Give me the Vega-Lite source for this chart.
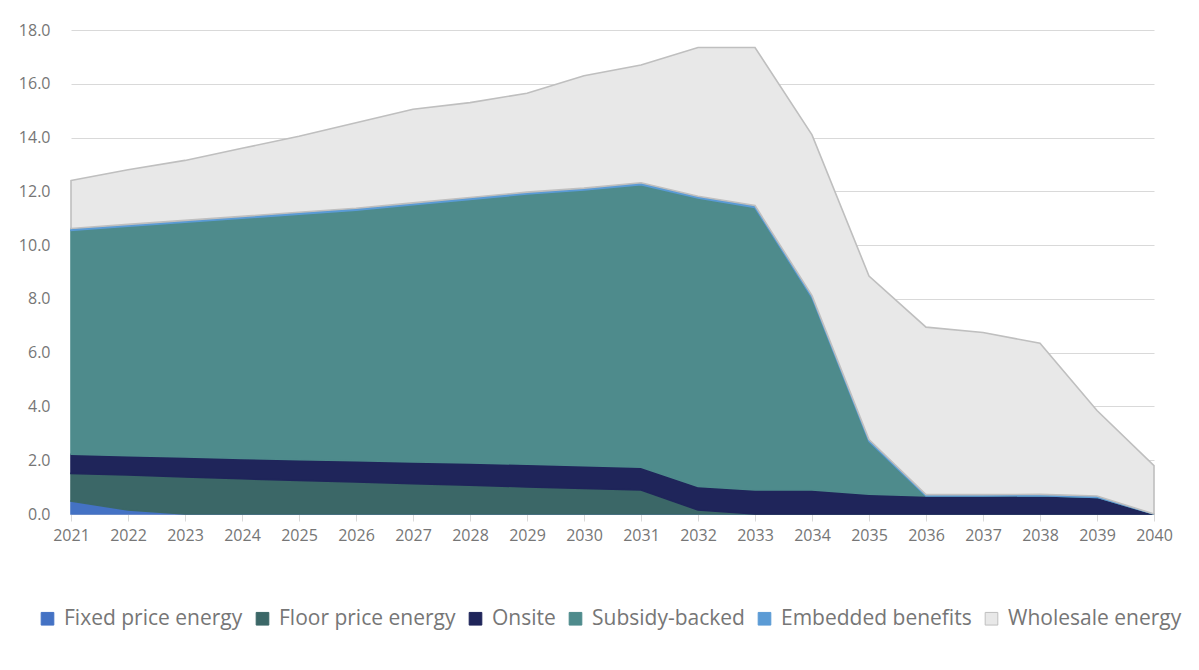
{
  "$schema": "https://vega.github.io/schema/vega-lite/v6.json",
  "width": 1083,
  "height": 484,
  "autosize": "none",
  "padding": {"left": 71, "top": 30, "right": 45, "bottom": 156},
  "background": "white",
  "config": {
    "view": {"stroke": null},
    "font": "Open Sans",
    "axis": {"labelFont": "Open Sans", "labelColor": "#767676", "labelFontSize": 16}
  },
  "datasets": {
    "d": [
      {"year": 2021, "series": "Fixed price energy", "value": 0.48},
      {"year": 2022, "series": "Fixed price energy", "value": 0.15},
      {"year": 2023, "series": "Fixed price energy", "value": 0},
      {"year": 2024, "series": "Fixed price energy", "value": 0},
      {"year": 2025, "series": "Fixed price energy", "value": 0},
      {"year": 2026, "series": "Fixed price energy", "value": 0},
      {"year": 2027, "series": "Fixed price energy", "value": 0},
      {"year": 2028, "series": "Fixed price energy", "value": 0},
      {"year": 2029, "series": "Fixed price energy", "value": 0},
      {"year": 2030, "series": "Fixed price energy", "value": 0},
      {"year": 2031, "series": "Fixed price energy", "value": 0},
      {"year": 2032, "series": "Fixed price energy", "value": 0},
      {"year": 2033, "series": "Fixed price energy", "value": 0},
      {"year": 2034, "series": "Fixed price energy", "value": 0},
      {"year": 2035, "series": "Fixed price energy", "value": 0},
      {"year": 2036, "series": "Fixed price energy", "value": 0},
      {"year": 2037, "series": "Fixed price energy", "value": 0},
      {"year": 2038, "series": "Fixed price energy", "value": 0},
      {"year": 2039, "series": "Fixed price energy", "value": 0},
      {"year": 2040, "series": "Fixed price energy", "value": 0},

      {"year": 2021, "series": "Floor price energy", "value": 1.03},
      {"year": 2022, "series": "Floor price energy", "value": 1.30},
      {"year": 2023, "series": "Floor price energy", "value": 1.38},
      {"year": 2024, "series": "Floor price energy", "value": 1.31},
      {"year": 2025, "series": "Floor price energy", "value": 1.25},
      {"year": 2026, "series": "Floor price energy", "value": 1.19},
      {"year": 2027, "series": "Floor price energy", "value": 1.13},
      {"year": 2028, "series": "Floor price energy", "value": 1.07},
      {"year": 2029, "series": "Floor price energy", "value": 1.01},
      {"year": 2030, "series": "Floor price energy", "value": 0.95},
      {"year": 2031, "series": "Floor price energy", "value": 0.89},
      {"year": 2032, "series": "Floor price energy", "value": 0.15},
      {"year": 2033, "series": "Floor price energy", "value": 0},
      {"year": 2034, "series": "Floor price energy", "value": 0},
      {"year": 2035, "series": "Floor price energy", "value": 0},
      {"year": 2036, "series": "Floor price energy", "value": 0},
      {"year": 2037, "series": "Floor price energy", "value": 0},
      {"year": 2038, "series": "Floor price energy", "value": 0},
      {"year": 2039, "series": "Floor price energy", "value": 0},
      {"year": 2040, "series": "Floor price energy", "value": 0},

      {"year": 2021, "series": "Onsite", "value": 0.71},
      {"year": 2022, "series": "Onsite", "value": 0.72},
      {"year": 2023, "series": "Onsite", "value": 0.74},
      {"year": 2024, "series": "Onsite", "value": 0.76},
      {"year": 2025, "series": "Onsite", "value": 0.77},
      {"year": 2026, "series": "Onsite", "value": 0.79},
      {"year": 2027, "series": "Onsite", "value": 0.81},
      {"year": 2028, "series": "Onsite", "value": 0.83},
      {"year": 2029, "series": "Onsite", "value": 0.84},
      {"year": 2030, "series": "Onsite", "value": 0.85},
      {"year": 2031, "series": "Onsite", "value": 0.85},
      {"year": 2032, "series": "Onsite", "value": 0.87},
      {"year": 2033, "series": "Onsite", "value": 0.89},
      {"year": 2034, "series": "Onsite", "value": 0.89},
      {"year": 2035, "series": "Onsite", "value": 0.74},
      {"year": 2036, "series": "Onsite", "value": 0.67},
      {"year": 2037, "series": "Onsite", "value": 0.67},
      {"year": 2038, "series": "Onsite", "value": 0.68},
      {"year": 2039, "series": "Onsite", "value": 0.62},
      {"year": 2040, "series": "Onsite", "value": 0},

      {"year": 2021, "series": "Subsidy-backed", "value": 8.33},
      {"year": 2022, "series": "Subsidy-backed", "value": 8.53},
      {"year": 2023, "series": "Subsidy-backed", "value": 8.73},
      {"year": 2024, "series": "Subsidy-backed", "value": 8.93},
      {"year": 2025, "series": "Subsidy-backed", "value": 9.13},
      {"year": 2026, "series": "Subsidy-backed", "value": 9.32},
      {"year": 2027, "series": "Subsidy-backed", "value": 9.56},
      {"year": 2028, "series": "Subsidy-backed", "value": 9.80},
      {"year": 2029, "series": "Subsidy-backed", "value": 10.05},
      {"year": 2030, "series": "Subsidy-backed", "value": 10.25},
      {"year": 2031, "series": "Subsidy-backed", "value": 10.51},
      {"year": 2032, "series": "Subsidy-backed", "value": 10.73},
      {"year": 2033, "series": "Subsidy-backed", "value": 10.51},
      {"year": 2034, "series": "Subsidy-backed", "value": 7.16},
      {"year": 2035, "series": "Subsidy-backed", "value": 1.96},
      {"year": 2036, "series": "Subsidy-backed", "value": 0},
      {"year": 2037, "series": "Subsidy-backed", "value": 0},
      {"year": 2038, "series": "Subsidy-backed", "value": 0},
      {"year": 2039, "series": "Subsidy-backed", "value": 0},
      {"year": 2040, "series": "Subsidy-backed", "value": 0},

      {"year": 2021, "series": "Embedded benefits", "value": 0.07},
      {"year": 2022, "series": "Embedded benefits", "value": 0.07},
      {"year": 2023, "series": "Embedded benefits", "value": 0.07},
      {"year": 2024, "series": "Embedded benefits", "value": 0.07},
      {"year": 2025, "series": "Embedded benefits", "value": 0.07},
      {"year": 2026, "series": "Embedded benefits", "value": 0.07},
      {"year": 2027, "series": "Embedded benefits", "value": 0.07},
      {"year": 2028, "series": "Embedded benefits", "value": 0.07},
      {"year": 2029, "series": "Embedded benefits", "value": 0.07},
      {"year": 2030, "series": "Embedded benefits", "value": 0.07},
      {"year": 2031, "series": "Embedded benefits", "value": 0.07},
      {"year": 2032, "series": "Embedded benefits", "value": 0.07},
      {"year": 2033, "series": "Embedded benefits", "value": 0.07},
      {"year": 2034, "series": "Embedded benefits", "value": 0.07},
      {"year": 2035, "series": "Embedded benefits", "value": 0.07},
      {"year": 2036, "series": "Embedded benefits", "value": 0.05},
      {"year": 2037, "series": "Embedded benefits", "value": 0.05},
      {"year": 2038, "series": "Embedded benefits", "value": 0.05},
      {"year": 2039, "series": "Embedded benefits", "value": 0.05},
      {"year": 2040, "series": "Embedded benefits", "value": 0},

      {"year": 2021, "series": "Wholesale energy", "value": 1.78},
      {"year": 2022, "series": "Wholesale energy", "value": 2.03},
      {"year": 2023, "series": "Wholesale energy", "value": 2.23},
      {"year": 2024, "series": "Wholesale energy", "value": 2.53},
      {"year": 2025, "series": "Wholesale energy", "value": 2.83},
      {"year": 2026, "series": "Wholesale energy", "value": 3.18},
      {"year": 2027, "series": "Wholesale energy", "value": 3.48},
      {"year": 2028, "series": "Wholesale energy", "value": 3.53},
      {"year": 2029, "series": "Wholesale energy", "value": 3.68},
      {"year": 2030, "series": "Wholesale energy", "value": 4.18},
      {"year": 2031, "series": "Wholesale energy", "value": 4.38},
      {"year": 2032, "series": "Wholesale energy", "value": 5.53},
      {"year": 2033, "series": "Wholesale energy", "value": 5.88},
      {"year": 2034, "series": "Wholesale energy", "value": 5.98},
      {"year": 2035, "series": "Wholesale energy", "value": 6.08},
      {"year": 2036, "series": "Wholesale energy", "value": 6.23},
      {"year": 2037, "series": "Wholesale energy", "value": 6.03},
      {"year": 2038, "series": "Wholesale energy", "value": 5.62},
      {"year": 2039, "series": "Wholesale energy", "value": 3.18},
      {"year": 2040, "series": "Wholesale energy", "value": 1.80}
    ]
  },
  "data": {"name": "d"},
  "transform": [
    {"calculate": "indexof(['Fixed price energy','Floor price energy','Onsite','Subsidy-backed','Embedded benefits','Wholesale energy'], datum.series)", "as": "stackIndex"}
  ],
  "mark": {"type": "area", "strokeWidth": 1.6, "interpolate": "linear"},
  "encoding": {
    "x": {
      "field": "year", "type": "quantitative",
      "scale": {"domain": [2021, 2040], "nice": false, "zero": false},
      "axis": {
        "title": null, "format": "d",
        "values": [2021,2022,2023,2024,2025,2026,2027,2028,2029,2030,2031,2032,2033,2034,2035,2036,2037,2038,2039,2040],
        "grid": false, "domainColor": "#d9d9d9", "tickColor": "#d9d9d9", "tickSize": 7,
        "labelPadding": 6, "labelFlush": false
      }
    },
    "y": {
      "field": "value", "type": "quantitative", "stack": "zero",
      "scale": {"domain": [0, 18], "nice": false},
      "axis": {
        "title": null, "format": ".1f", "values": [0,2,4,6,8,10,12,14,16,18],
        "domain": false, "ticks": false, "gridColor": "#d9d9d9", "gridWidth": 1.2,
        "labelPadding": 21
      }
    },
    "order": {"field": "stackIndex", "type": "quantitative", "sort": "ascending"},
    "color": {
      "field": "series", "type": "nominal",
      "scale": {
        "domain": ["Fixed price energy", "Floor price energy", "Onsite", "Subsidy-backed", "Embedded benefits", "Wholesale energy"],
        "range": ["#4472c4", "#3b6767", "#1f255a", "#4e8b8c", "#5b9bd5", "#e8e8e8"]
      },
      "legend": {
        "title": null, "orient": "none", "direction": "horizontal", "legendX": -34, "legendY": 578,
        "symbolType": "square", "symbolSize": 160, "symbolStrokeWidth": 1, "symbolOpacity": 1,
        "labelFont": "Open Sans", "labelFontSize": 21, "labelColor": "#767676",
        "labelOffset": 6, "columnPadding": 9, "labelLimit": 400
      }
    },
    "stroke": {
      "field": "series", "type": "nominal",
      "scale": {
        "domain": ["Fixed price energy", "Floor price energy", "Onsite", "Subsidy-backed", "Embedded benefits", "Wholesale energy"],
        "range": ["#4472c4", "#3b6767", "#1f255a", "#4e8b8c", "#5b9bd5", "#bfbfbf"]
      },
      "legend": null
    }
  }
}
